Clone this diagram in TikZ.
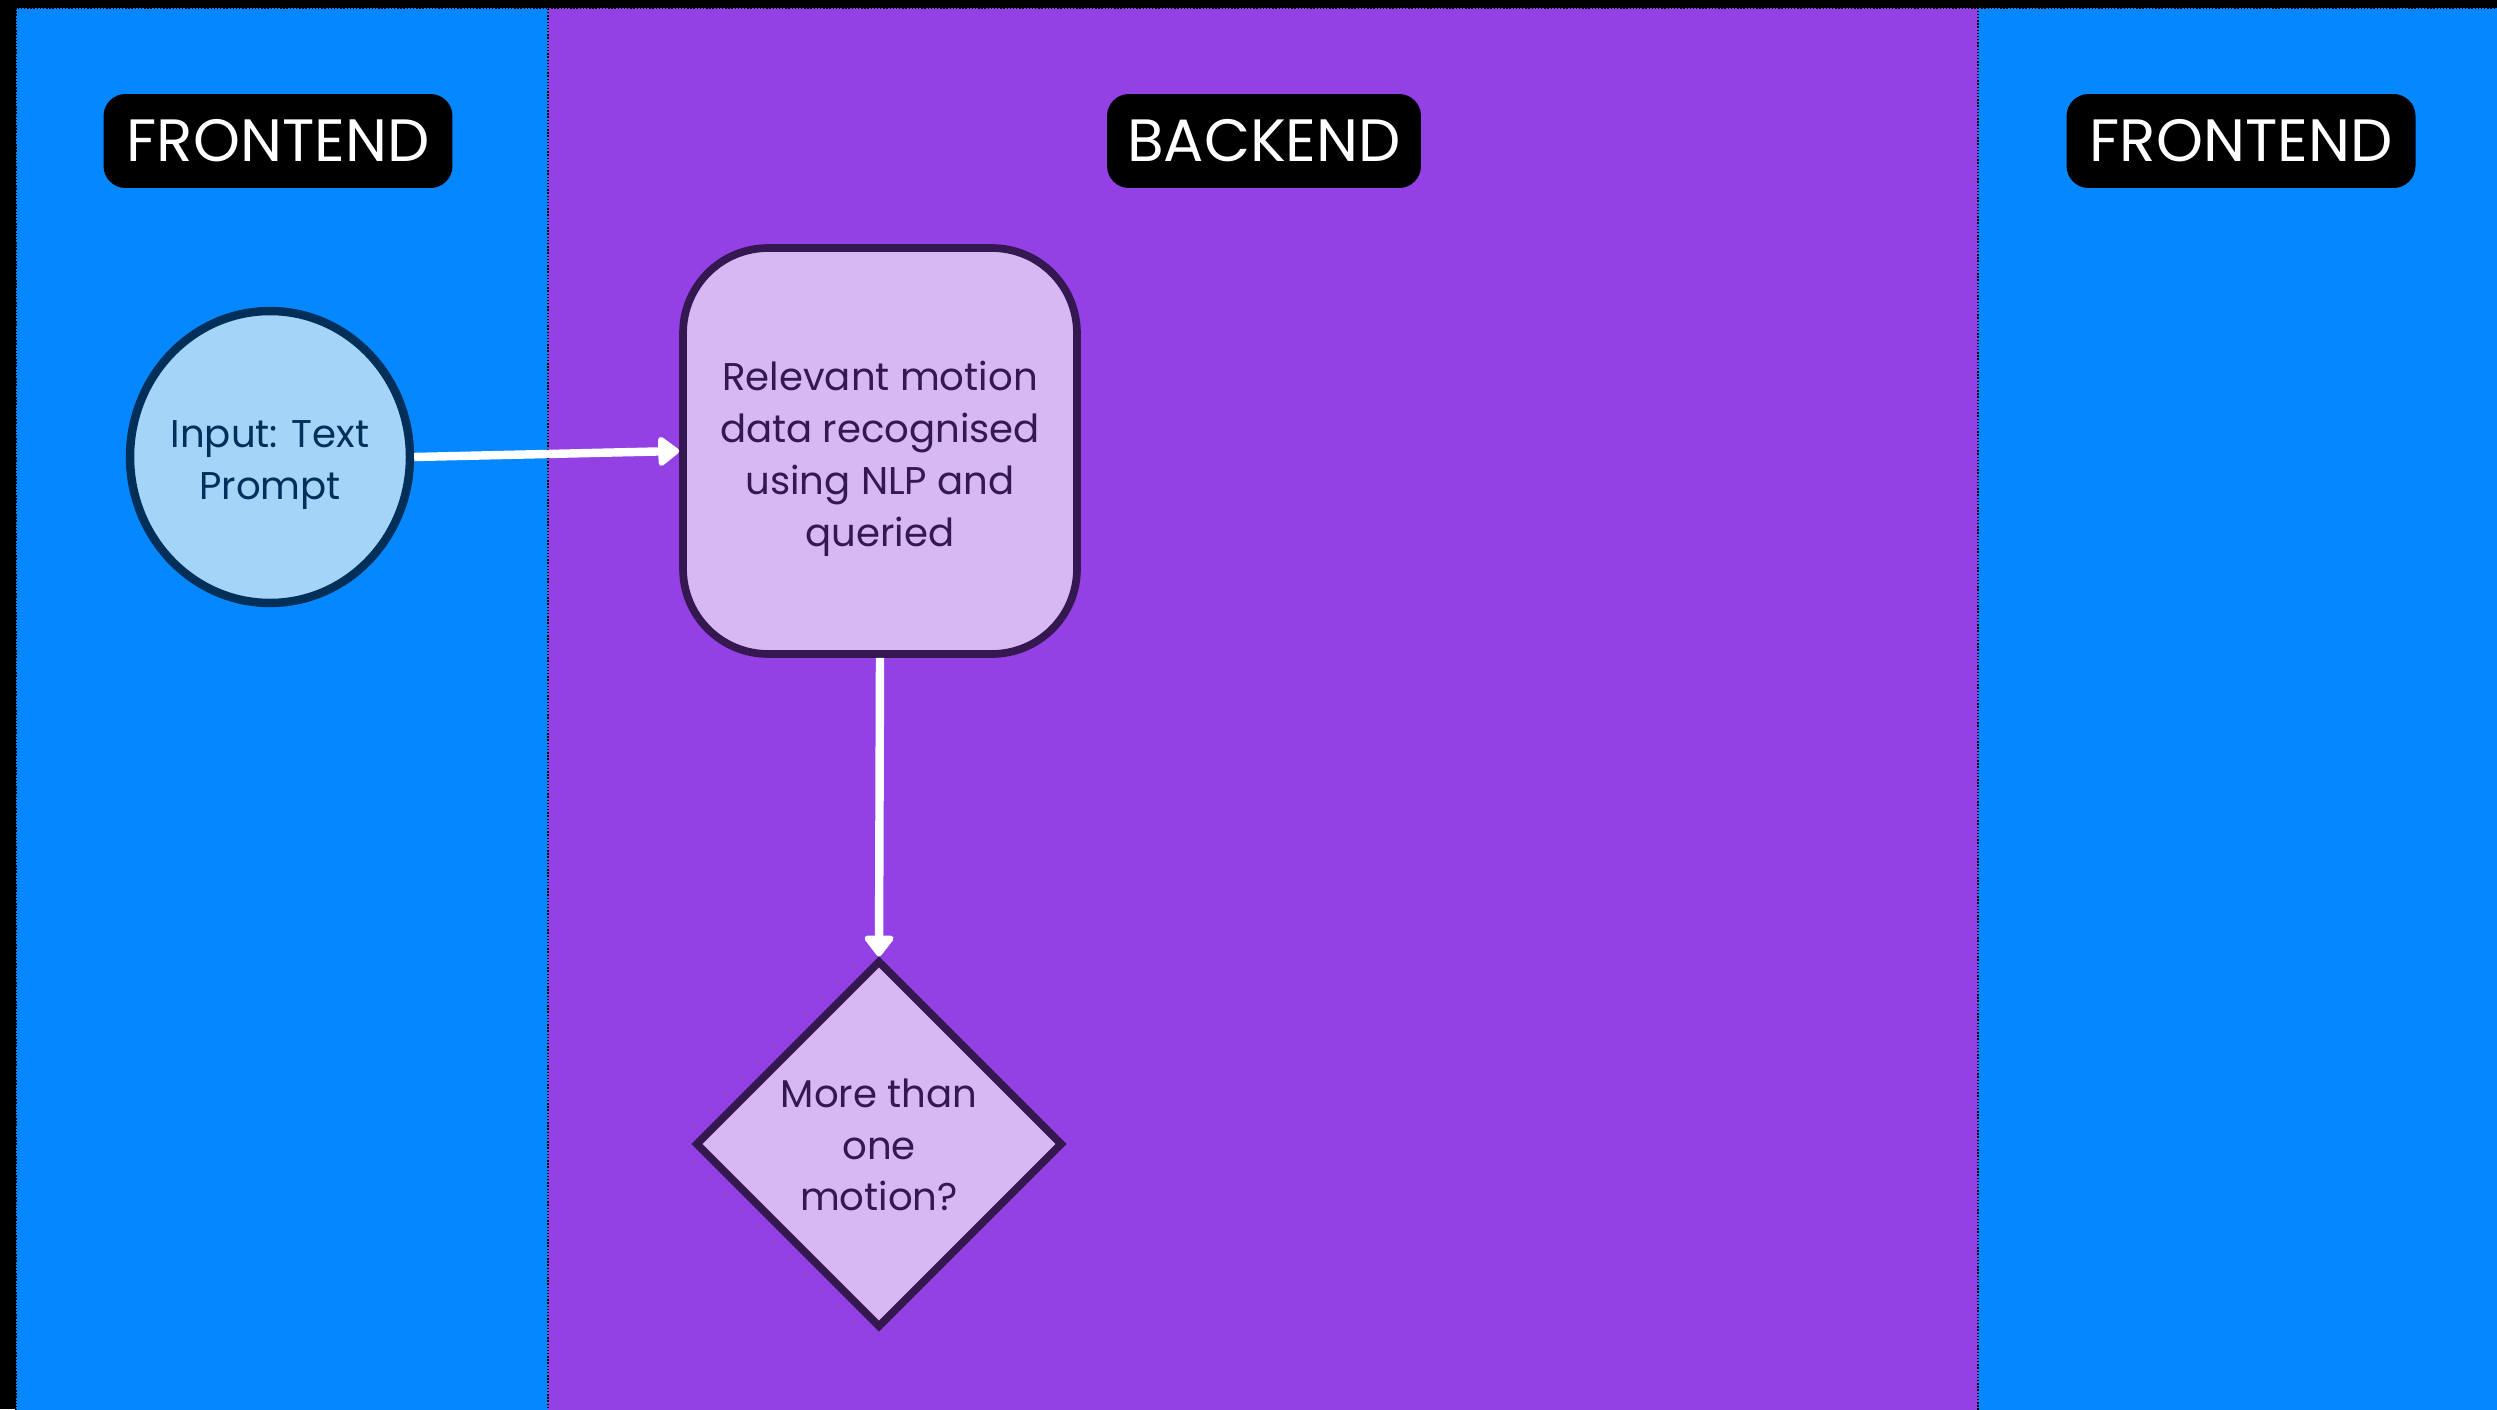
\documentclass[tikz,border=0pt]{standalone}
\usepackage{fontspec}
\setmainfont{Poppins}
\usetikzlibrary{shapes.geometric,arrows.meta}
\definecolor{laneblue}{HTML}{0588FF}
\definecolor{lanepurple}{HTML}{9340E4}
\definecolor{circfill}{HTML}{A4D4F8}
\definecolor{circline}{HTML}{00305A}
\definecolor{boxfill}{HTML}{D8B8F2}
\definecolor{boxline}{HTML}{35184F}
\begin{document}
\begin{tikzpicture}[x=0.02cm,y=-0.02cm,
  lanebox/.style={densely dotted, draw=black, line width=0.8pt},
  lanelabel/.style={fill=black, text=white, rounded corners=0.44cm,
    minimum height=1.88cm, inner sep=0pt, font=\fontsize{34}{38}\selectfont},
  bodytext/.style={align=center, font=\fontsize{22}{29.5}\selectfont},
  startnode/.style={ellipse, draw=circline, fill=circfill, line width=4.8pt,
    minimum width=5.6cm, minimum height=5.84cm, inner sep=0pt},
  processnode/.style={rectangle, rounded corners=1.7cm, draw=boxline, fill=boxfill,
    line width=4.4pt, minimum width=7.88cm, minimum height=8.12cm, inner sep=0pt},
  decisionnode/.style={diamond, aspect=1, draw=boxline, fill=boxfill, line width=4.4pt,
    minimum width=7.35cm, minimum height=7.35cm, inner sep=0pt},
  flow/.style={draw=white, line width=4.8pt,
    -{Triangle[width=19pt,length=13pt,round]}}]
  % canvas
  \fill[black] (0,0) rectangle (2497,1409);
  \useasboundingbox (0,0) rectangle (2497,1409);
  % swimlanes
  \fill[laneblue] (16,8) rectangle (548,1420);
  \fill[lanepurple] (548,8) rectangle (1978,1420);
  \fill[laneblue] (1978,8) rectangle (2510,1420);
  \draw[lanebox] (16,1420) -- (16,8) -- (548,8) -- (548,1420);
  \draw[lanebox] (548,8) -- (1978,8) -- (1978,1420);
  \draw[lanebox] (1978,8) -- (2510,8);
  % lane headers
  \node[lanelabel, minimum width=6.98cm] (hfront) at (278,141) {FRONTEND};
  \node[lanelabel, minimum width=6.28cm] (hback) at (1264,141) {BACKEND};
  \node[lanelabel, minimum width=6.98cm] (hfront2) at (2241,141) {FRONTEND};
  % flow nodes (shapes, with their texts set on top)
  \node[startnode] (prompt) at (270,457) {};
  \node[bodytext, text=circline] (prompttext) at (270,465) {Input: Text\\Prompt};
  \node[processnode] (query) at (880,451) {};
  \node[bodytext, text=boxline] (querytext) at (880,459) {Relevant motion\\data recognised\\using NLP and\\queried};
  \node[decisionnode] (multi) at (879,1144) {};
  \node[bodytext, text=boxline] (multitext) at (879,1145) {More than\\one\\motion?};
  % connectors
  \draw[flow] (prompt.east) -- (query.west);
  \draw[flow] (query.south) -- (multi.north);
\end{tikzpicture}
\end{document}
